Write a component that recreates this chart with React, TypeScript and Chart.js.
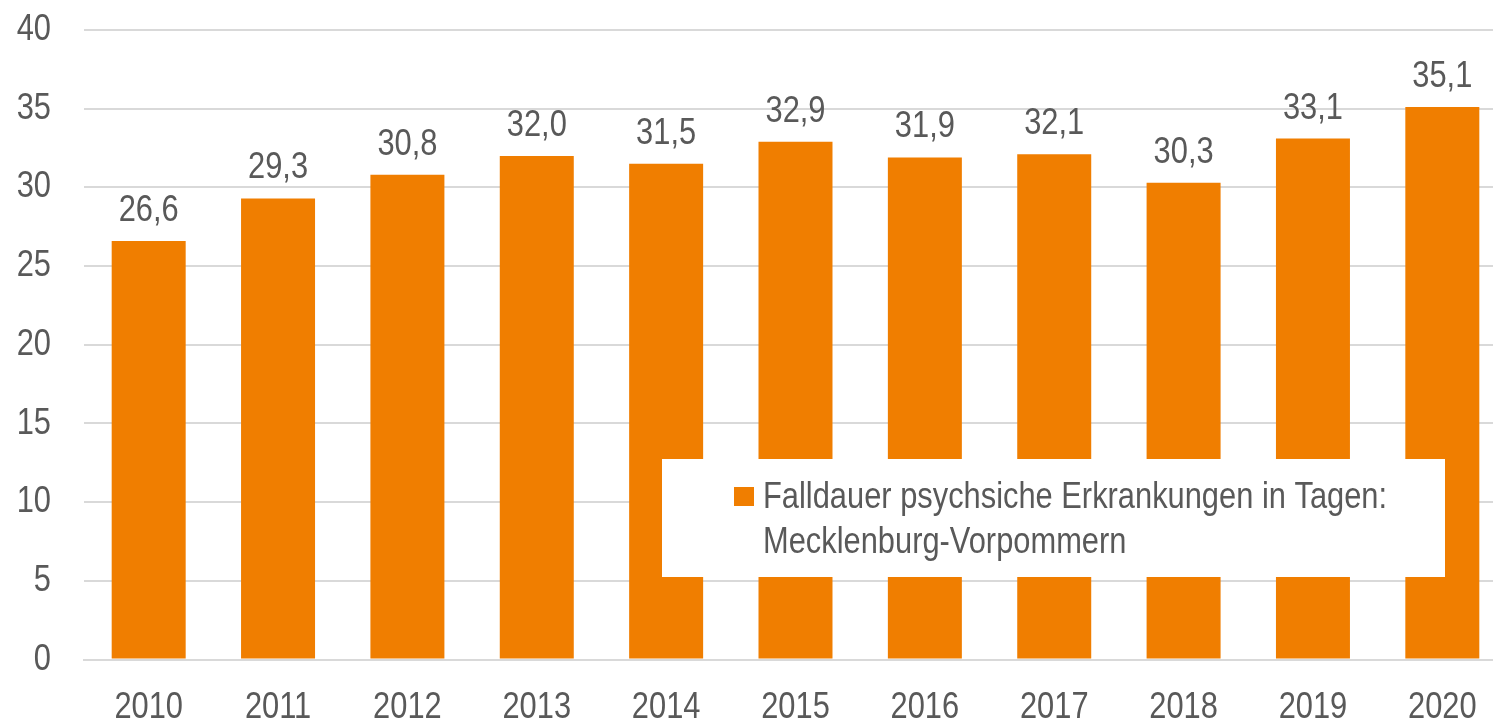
import React, { useEffect, useRef } from "react";
import { Chart, registerables } from "chart.js";

Chart.register(...registerables);

const years = ["2010", "2011", "2012", "2013", "2014", "2015", "2016", "2017", "2018", "2019", "2020"];
const falldauer = [26.6, 29.3, 30.8, 32.0, 31.5, 32.9, 31.9, 32.1, 30.3, 33.1, 35.1];
const legendLines = ["Falldauer psychsiche Erkrankungen in Tagen:", "Mecklenburg-Vorpommern"];
const seriesLabel = legendLines.join(" ");

const FONT = "'Liberation Sans', Arial, sans-serif";
const FONT_SIZE = 36.5;
const NARROW = 0.845;
const ORANGE = "#F07E00";
const TEXT = "#595959";
const GRID = "#D9D9D9";

function narrowText(ctx: CanvasRenderingContext2D, text: string, x: number, y: number, align: CanvasTextAlign, baseline: CanvasTextBaseline) {
  ctx.save();
  ctx.font = `${FONT_SIZE}px ${FONT}`;
  ctx.fillStyle = TEXT;
  ctx.textAlign = align;
  ctx.textBaseline = baseline;
  ctx.translate(x, y);
  ctx.scale(NARROW, 1);
  ctx.fillText(text, 0, 0);
  ctx.restore();
}

const textPlugin = {
  id: "narrowTexts",
  afterDatasetsDraw(chart: any) {
    const ctx = chart.ctx;
    const meta = chart.getDatasetMeta(0);
    // value labels
    meta.data.forEach((bar: any, i: number) => {
      narrowText(ctx, falldauer[i].toFixed(1).replace(".", ","), bar.x, bar.y - 20, "center", "alphabetic");
    });
    // y tick labels
    const ys = chart.scales.y;
    ys.ticks.forEach((t: any, i: number) => {
      const py = ys.getPixelForTick(i);
      narrowText(ctx, String(t.value), 51, py, "right", "middle");
    });
    // x tick labels
    const xs = chart.scales.x;
    years.forEach((y, i) => {
      narrowText(ctx, y, xs.getPixelForTick(i), chart.chartArea.bottom + 58.5, "center", "alphabetic");
    });
  },
  afterDraw(chart: any) {
    const ctx = chart.ctx;
    const ca = chart.chartArea;
    const x0 = ca.left + 578;
    const y0 = ca.top + 429;
    ctx.save();
    ctx.fillStyle = "#ffffff";
    ctx.fillRect(x0, y0, 783, 118);
    ctx.fillStyle = ORANGE;
    ctx.fillRect(x0 + 72, y0 + 28, 20, 19);
    ctx.restore();
    narrowText(ctx, legendLines[0], x0 + 101, y0 + 49, "left", "alphabetic");
    narrowText(ctx, legendLines[1], x0 + 101, y0 + 94, "left", "alphabetic");
  },
};

export default function App() {
  const ref = useRef<HTMLCanvasElement | null>(null);
  useEffect(() => {
    if (!ref.current) return;
    const chart = new Chart(ref.current, {
      type: "bar",
      data: {
        labels: years,
        datasets: [
          {
            label: seriesLabel,
            data: falldauer,
            backgroundColor: ORANGE,
            borderWidth: 0,
            categoryPercentage: 1,
            barPercentage: 0.572,
          },
        ],
      },
      options: {
        responsive: false,
        animation: false,
        layout: { padding: { top: 30, left: 0, right: 0, bottom: 0 } },
        plugins: { legend: { display: false }, tooltip: { enabled: false } },
        scales: {
          x: {
            grid: { display: false, drawTicks: false },
            border: { display: true, color: GRID, width: 2 },
            ticks: { display: false },
            afterFit: (s: any) => {
              s.height = 63.5;
            },
          },
          y: {
            min: 0,
            max: 40,
            ticks: { display: false, stepSize: 5 },
            grid: { color: GRID, lineWidth: 2, drawTicks: false },
            border: { display: false },
            afterFit: (s: any) => {
              s.width = 84;
            },
          },
        },
      },
      plugins: [textPlugin],
    });
    return () => chart.destroy();
  }, []);
  return (
    <div style={{ position: "fixed", left: 0, top: 0, width: 1493, height: 723, overflow: "hidden", background: "#fff" }}>
      <canvas ref={ref} width={1507} height={723} style={{ display: "block" }} />
    </div>
  );
}
